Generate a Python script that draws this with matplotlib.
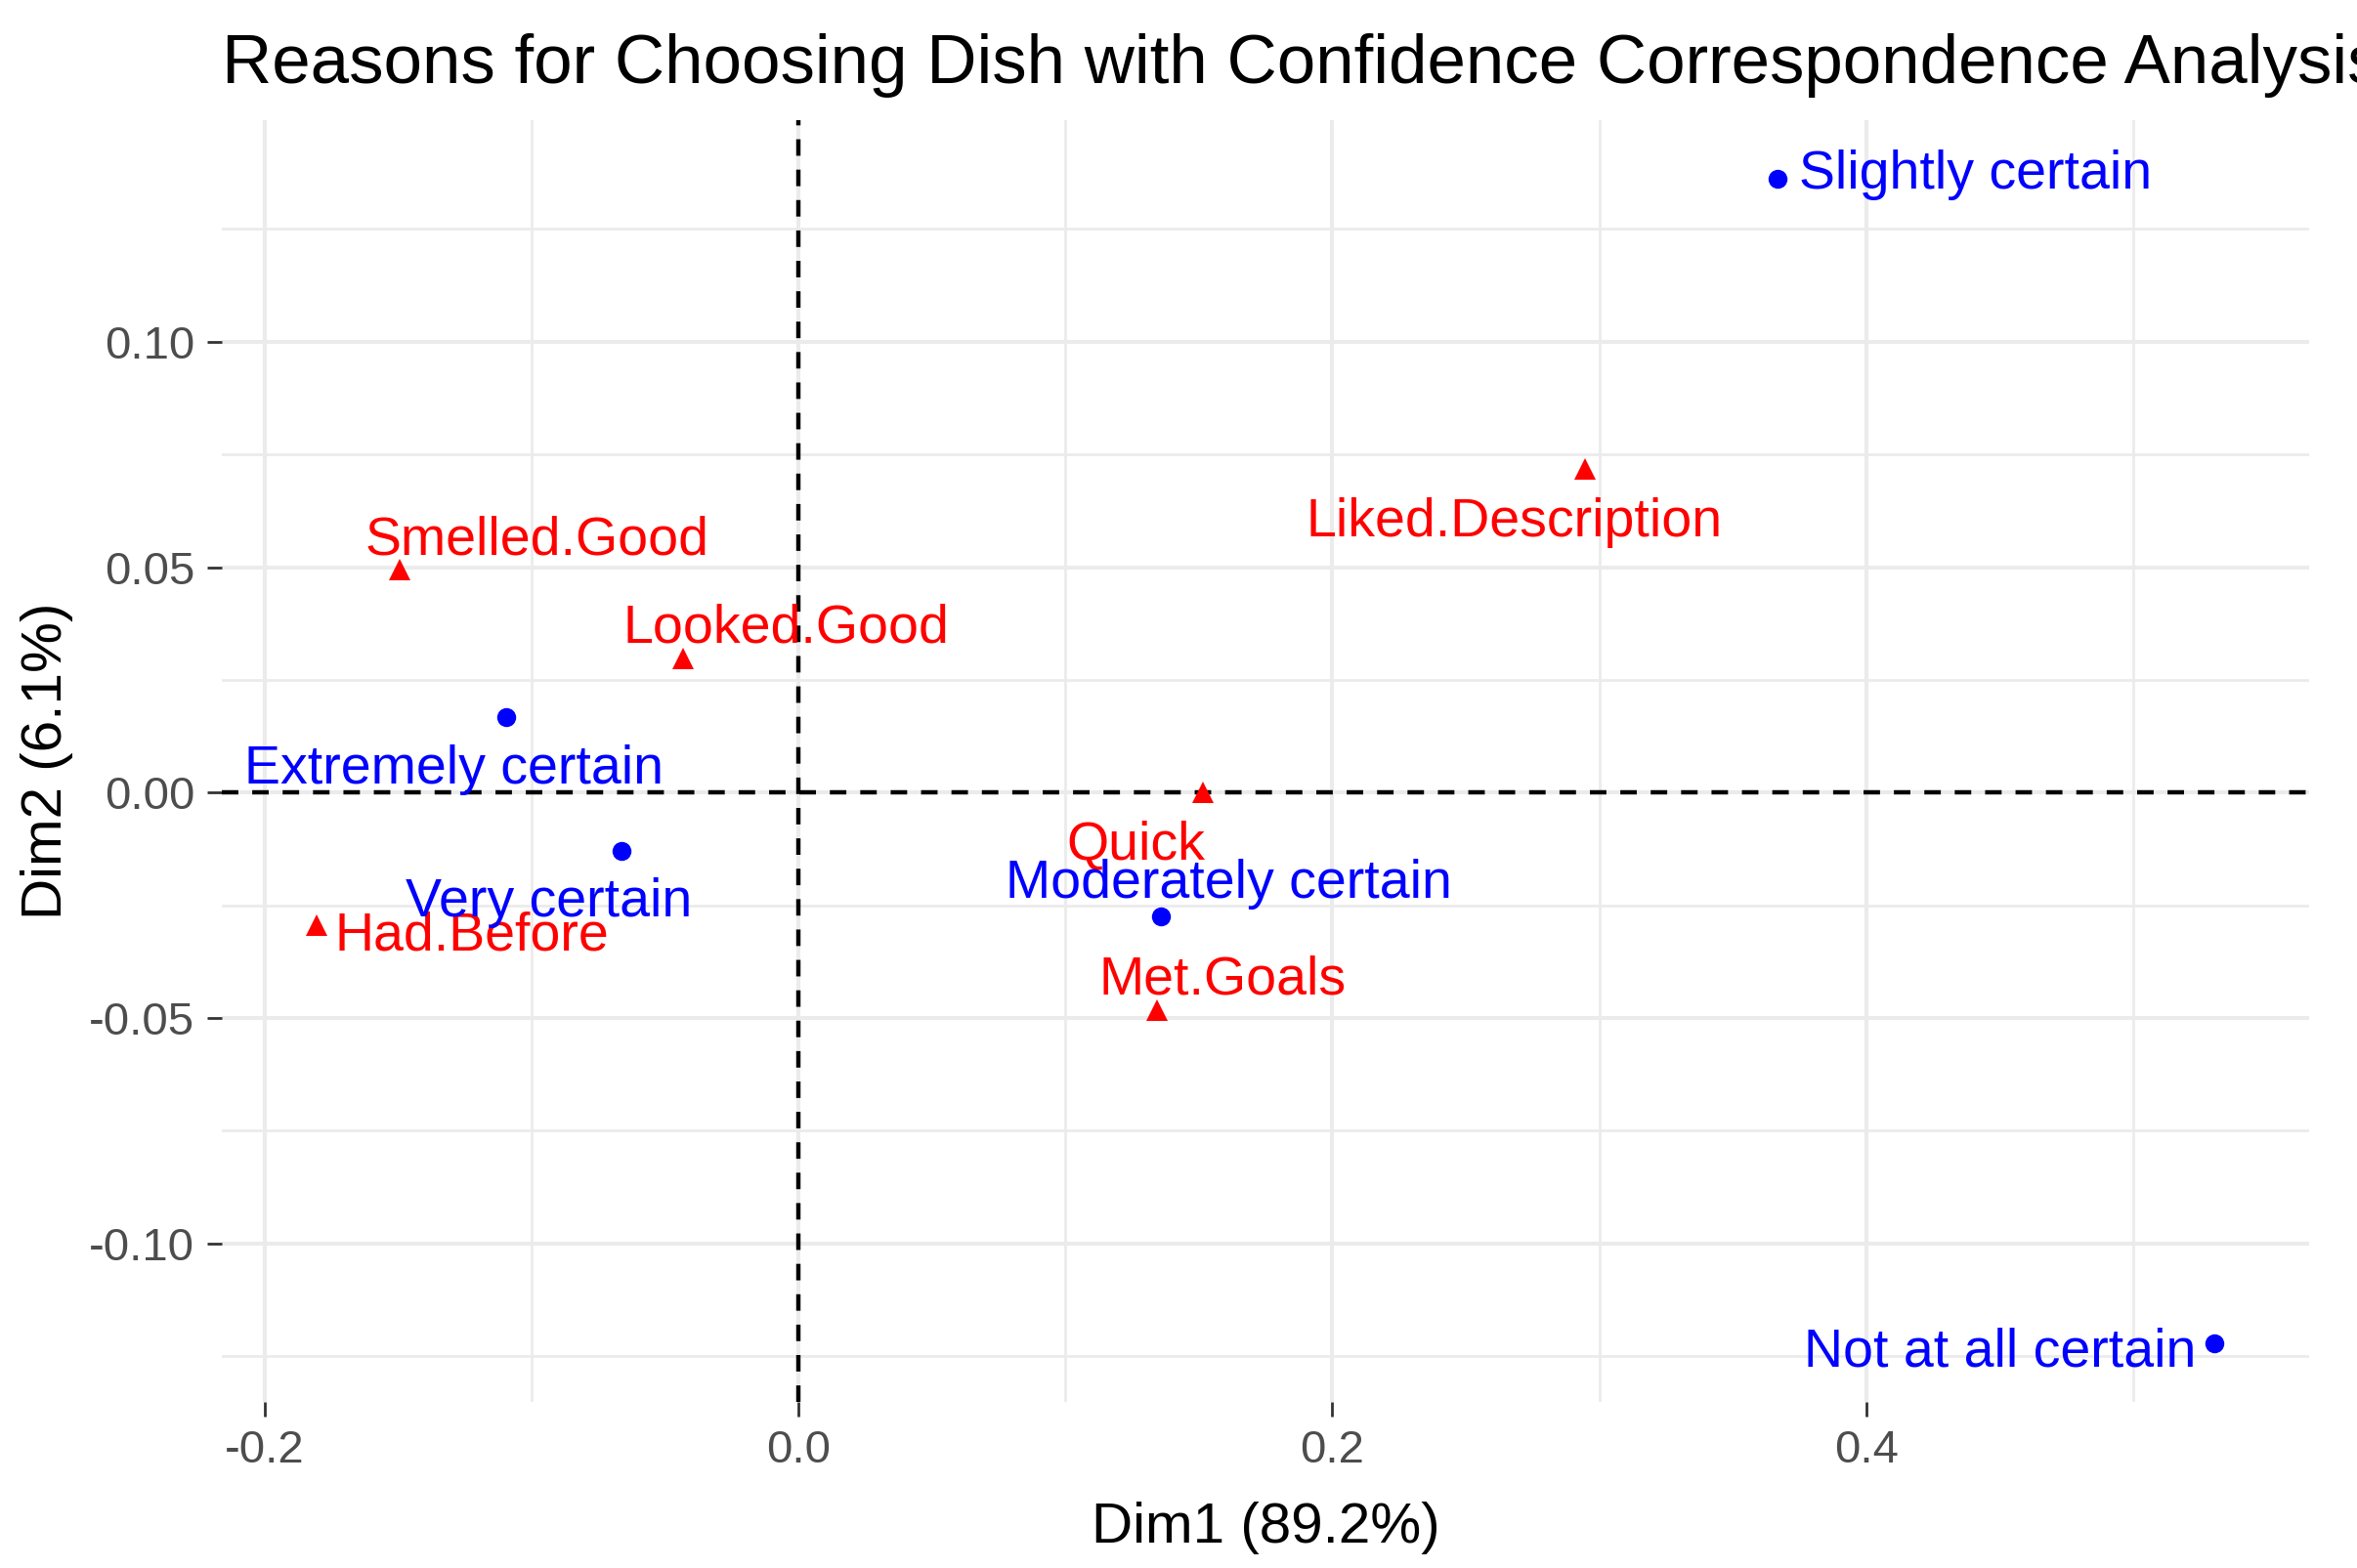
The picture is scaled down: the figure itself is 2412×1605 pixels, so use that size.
import matplotlib
matplotlib.use("Agg")
import matplotlib.pyplot as plt
from matplotlib.ticker import FixedLocator

plt.rcParams['font.family'] = ['Liberation Sans', 'DejaVu Sans']
plt.rcParams['axes.unicode_minus'] = False

# ---------------- data ----------------
title = "Reasons for Choosing Dish with Confidence Correspondence Analysis"
x_title = "Dim1 (89.2%)"
y_title = "Dim2 (6.1%)"

# column points (confidence) - blue circles
col_names = ["Extremely certain", "Very certain", "Moderately certain",
             "Slightly certain", "Not at all certain"]
col_dim1 = [-0.1094, -0.0662, 0.1358, 0.3668, 0.5304]
col_dim2 = [0.0168, -0.0129, -0.0274, 0.1362, -0.1222]

# row points (reasons) - red triangles
row_names = ["Smelled.Good", "Looked.Good", "Liked.Description",
             "Quick", "Met.Goals", "Had.Before"]
row_dim1 = [-0.1493, -0.0432, 0.2947, 0.1515, 0.1343, -0.1805]
row_dim2 = [0.0494, 0.0297, 0.0718, 0.0000, -0.0483, -0.0293]

x_ticks = [-0.2, 0.0, 0.2, 0.4]
x_tick_labels = ["-0.2", "0.0", "0.2", "0.4"]
x_minor = [-0.1, 0.1, 0.3, 0.5]
y_ticks = [-0.10, -0.05, 0.00, 0.05, 0.10]
y_tick_labels = ["-0.10", "-0.05", "0.00", "0.05", "0.10"]
y_minor = [-0.125, -0.075, -0.025, 0.025, 0.075, 0.125]

# ---------------- layout (label offsets in points, alignment) ----------------
col_label_layout = {
    "Extremely certain": (-39, -49, 'center'),
    "Very certain": (-53.6, -48, 'center'),
    "Moderately certain": (49.7, 13.7, 'center'),
    "Slightly certain": (15.8, -7.2, 'left'),
    "Not at all certain": (-13.7, -16.6, 'right'),
}
row_label_layout = {
    "Smelled.Good": (101, 11.5, 'center'),
    "Looked.Good": (76, 12, 'center'),
    "Liked.Description": (-52, -50, 'center'),
    "Quick": (-49.7, -49, 'center'),
    "Met.Goals": (48.6, 12.2, 'center'),
    "Had.Before": (13, -18.7, 'left'),
}

W, H = 2412, 1605
fig = plt.figure(figsize=(W / 100, H / 100), dpi=100)
pl, pr, pt, pb = 227, 2363, 123, 1435
ax = fig.add_axes([pl / W, 1 - pb / H, (pr - pl) / W, (pb - pt) / H])

# limits with ggplot-like 5% expansion
all_x = col_dim1 + row_dim1
all_y = col_dim2 + row_dim2
rx = max(all_x) - min(all_x)
ry = max(all_y) - min(all_y)
ax.set_xlim(min(all_x) - 0.05 * rx, max(all_x) + 0.05 * rx)
ax.set_ylim(min(all_y) - 0.05 * ry, max(all_y) + 0.05 * ry)

for s in ax.spines.values():
    s.set_visible(False)

ax.xaxis.set_major_locator(FixedLocator(x_ticks))
ax.yaxis.set_major_locator(FixedLocator(y_ticks))
ax.xaxis.set_minor_locator(FixedLocator(x_minor))
ax.yaxis.set_minor_locator(FixedLocator(y_minor))
ax.set_xticklabels(x_tick_labels)
ax.set_yticklabels(y_tick_labels)
ax.grid(which='major', color='#EBEBEB', linewidth=2.9, zorder=0)
ax.grid(which='minor', color='#EBEBEB', linewidth=2.0, zorder=0)
ax.set_axisbelow(True)
ax.tick_params(which='major', length=11, width=2.0, color='#333333',
               labelsize=34, labelcolor='#4D4D4D', pad=9)
ax.tick_params(which='minor', length=0)

# reference dashed lines
ax.axhline(0, color='black', linewidth=3.2, dashes=(3.8, 3.2), zorder=1)
ax.axvline(0, color='black', linewidth=3.2, dashes=(3.8, 3.2), zorder=1)

# points
ax.plot(row_dim1, row_dim2, linestyle='none', marker='^', markersize=16,
        color='#FF0000', markeredgewidth=0, zorder=3)
ax.plot(col_dim1, col_dim2, linestyle='none', marker='o', markersize=14,
        color='#0000FF', markeredgewidth=0, zorder=3)

# labels
for name, x, y in zip(row_names, row_dim1, row_dim2):
    dx, dy, ha = row_label_layout[name]
    ax.annotate(name, (x, y), xytext=(dx, dy), textcoords='offset points',
                ha=ha, va='baseline', fontsize=40, color='#FF0000', zorder=4)
for name, x, y in zip(col_names, col_dim1, col_dim2):
    dx, dy, ha = col_label_layout[name]
    ax.annotate(name, (x, y), xytext=(dx, dy), textcoords='offset points',
                ha=ha, va='baseline', fontsize=40, color='#0000FF', zorder=4)

# titles
fig.text(pl / W, 1 - 85 / H, title, ha='left', va='baseline', fontsize=51,
         color='black')
ax.set_xlabel(x_title, fontsize=42, color='black', va='baseline')
ax.xaxis.set_label_coords(0.5, (pb - 1579) / (pb - pt))
ax.set_ylabel(y_title, fontsize=42, color='black', va='center')
ax.yaxis.set_label_coords((48 - pl) / (pr - pl), 0.5)

fig.savefig("out.png", dpi=100)
